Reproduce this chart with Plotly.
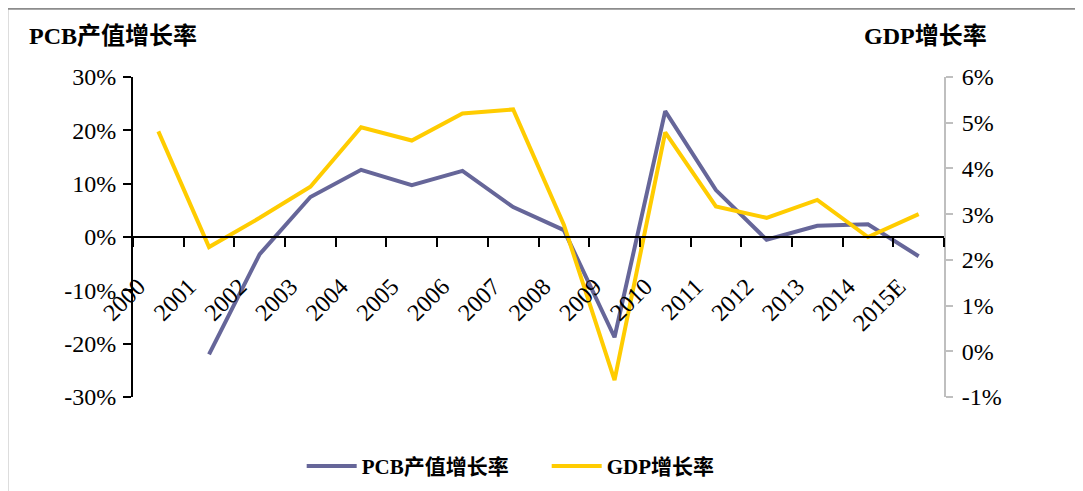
import plotly.graph_objects as go

years = ["2000", "2001", "2002", "2003", "2004", "2005", "2006", "2007",
         "2008", "2009", "2010", "2011", "2012", "2013", "2014", "2015E"]
pcb_growth = [None, -22.0, -3.2, 7.5, 12.6, 9.7, 12.4, 5.6,
              1.3, -18.8, 23.6, 8.8, -0.5, 2.1, 2.4, -3.6]
gdp_growth = [4.81, 2.28, 2.92, 3.6, 4.9, 4.61, 5.2, 5.29,
              2.77, -0.63, 4.79, 3.17, 2.92, 3.31, 2.5, 3.0]
left_ticks = [-30, -20, -10, 0, 10, 20, 30]
right_ticks = [-1, 0, 1, 2, 3, 4, 5, 6]

PURPLE = "#666699"
YELLOW = "#FFCC00"
SERIF = "Liberation Serif, Times New Roman, Noto Sans CJK SC, serif"

fig = go.Figure()
fig.add_trace(go.Scatter(
    x=years, y=pcb_growth, name="PCB产值增长率", mode="lines",
    line=dict(color=PURPLE, width=4), yaxis="y", connectgaps=False))
fig.add_trace(go.Scatter(
    x=years, y=gdp_growth, name="GDP增长率", mode="lines",
    line=dict(color=YELLOW, width=4), yaxis="y2"))

fig.update_layout(
    width=1083, height=491,
    margin=dict(l=125, r=147, t=69, b=98),
    paper_bgcolor="white", plot_bgcolor="white",
    font=dict(family=SERIF, size=20, color="black"),
    xaxis=dict(
        type="category", range=[-0.5, 15.5], automargin=False,
        anchor="free", position=0.5,
        showline=True, linecolor="black", linewidth=2,
        ticks="outside", tickson="boundaries", ticklen=9, tickwidth=2,
        tickcolor="black", tickangle=-45, showgrid=False, zeroline=False,
        ticklabelstandoff=25, ticklabelshift=-20,
        tickfont=dict(family=SERIF, size=24, color="black"),
    ),
    yaxis=dict(
        range=[-30, 30], automargin=False,
        tickvals=left_ticks, ticktext=[f"{v}%" for v in left_ticks],
        showline=True, linecolor="black", linewidth=2,
        ticks="outside", ticklen=8, tickwidth=2, tickcolor="black",
        showgrid=False, zeroline=False, ticklabelstandoff=2,
        tickfont=dict(family=SERIF, size=24, color="black"),
    ),
    yaxis2=dict(
        range=[-1, 6], automargin=False, overlaying="y", side="right",
        tickvals=right_ticks, ticktext=[f"{v}%" for v in right_ticks],
        showline=True, linecolor="#BFBFBF", linewidth=2,
        ticks="outside", ticklen=7, tickwidth=2, tickcolor="#BFBFBF",
        showgrid=False, zeroline=False, ticklabelstandoff=4,
        tickfont=dict(family=SERIF, size=24, color="black"),
    ),
    legend=dict(
        orientation="h", x=0.208, xanchor="left", y=-0.217, yanchor="middle",
        font=dict(family=SERIF, size=21, weight="bold"),
        bgcolor="rgba(0,0,0,0)", entrywidth=180, itemwidth=50,
    ),
    showlegend=True,
)

fig.add_annotation(text="<b>PCB产值增长率</b>", xref="paper", yref="paper",
                   x=-0.131, y=1.128, xanchor="left", yanchor="middle",
                   showarrow=False, font=dict(family=SERIF, size=24))
fig.add_annotation(text="<b>GDP增长率</b>", xref="paper", yref="paper",
                   x=0.977, y=1.128, xanchor="center", yanchor="middle",
                   showarrow=False, font=dict(family=SERIF, size=24))

fig.add_shape(type="rect", xref="paper", yref="paper",
              x0=-0.155, x1=1.3, y0=-0.4, y1=1.213,
              line=dict(color="#8C8C8C", width=2), layer="below")

fig.write_html("out.html")
